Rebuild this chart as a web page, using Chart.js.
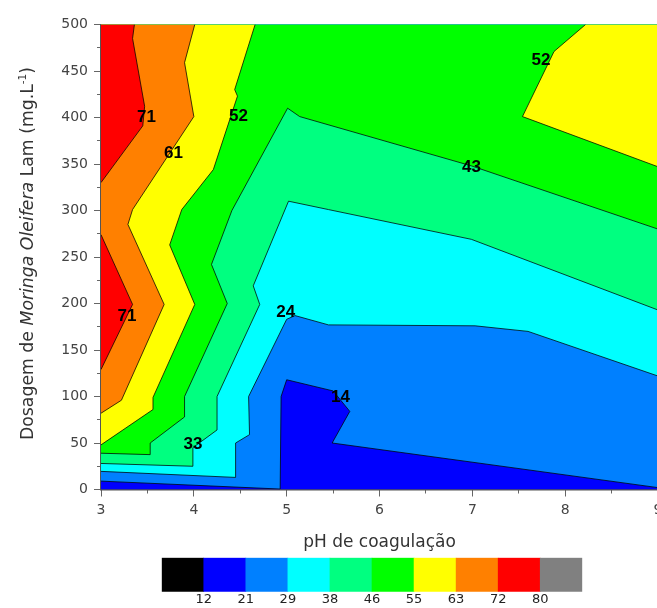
<!DOCTYPE html>
<html>
<head>
<meta charset="utf-8">
<title>Dosagem de Moringa oleifera x pH de coagulação</title>
<script src="https://cdn.jsdelivr.net/npm/chart.js@4.4.1/dist/chart.umd.min.js"></script>
<style>
  html,body{margin:0;padding:0;background:#fff;}
  #wrap{position:relative;width:657px;height:608px;overflow:hidden;}
  #contour{position:absolute;left:0;top:0;}
  #scale{position:absolute;left:0;top:550px;}
</style>
</head>
<body>
<div id="wrap">
  <canvas id="contour" width="670" height="560"></canvas>
  <canvas id="scale" width="657" height="58"></canvas>
</div>
<script>
/* contour lines as [pH, dose] vertices, each running edge to edge of the frame */
const c21  = [[3,9],[4.93,0.5],[4.94,100],[5.0,118],[5.5,106],[5.68,84],[5.49,50],[9,2]];
const c29  = [[3,19.5],[4.45,13],[4.45,50],[4.6,59],[4.59,100],[5.0,183],[5.09,187],[5.45,177],[7.03,176],[7.6,170],[9,122]];
const c38  = [[3,28],[3.99,25],[3.99,45],[4.25,64],[4.25,100],[4.71,199],[4.64,219],[5.02,310],[5.45,301],[6.99,269],[9,193]];
const c46  = [[3,39],[3.53,37.5],[3.53,50],[3.9,78],[3.9,100],[4.36,200],[4.19,242],[4.41,300],[5.01,410],[5.14,401],[6.99,348],[9,280]];
const c55a = [[3,48],[3.56,86],[3.56,99],[4.01,199],[3.74,263],[3.87,301],[4.21,344],[4.47,423],[4.44,430],[4.66,500]];
const c55b = [[8.22,500],[7.88,471],[7.54,401],[9,347]];
const c63  = [[3,82],[3.22,96],[3.68,199],[3.29,285],[3.34,301],[4.0,401],[3.9,459],[4.01,500]];
const c72a = [[3,330],[3.45,391],[3.47,412],[3.34,485],[3.36,500]];
const c72b = [[3,129],[3.34,199],[3,274]];

/* frame corners used to close each band */
const frame = [[3,0],[9,0],[9,500],[3,500]];
const topRight = [[9,500],[3,500]];
const topLeft = [[3,500]];
const cornerTR = [[9,500]];

/* band colours, from the 12-21 band upwards */
const bandColors = ['#0000ff','#0080ff','#00ffff','#00ff80','#00ff00','#ffff00','#ff8000','#ff0000'];

/* contour value labels */
const labelText = ['71','61','52','52','43','24','71','33','14'];
const labelPh   = [3.49, 3.78, 4.48, 7.74, 6.99, 4.99, 3.28, 3.99, 5.58];
const labelDose = [400, 361, 401, 462, 346, 190, 186, 49, 99];

/* colour scale */
const scaleLevels = [12,21,29,38,46,55,63,72,80];
const scaleColors = ['#000000','#0000ff','#0080ff','#00ffff','#00ff80','#00ff00','#ffff00','#ff8000','#ff0000','#808080'];

const xy = pts => pts.map(([x,y]) => ({x, y}));

// [line, corners, colour index]
const bands = [
  [frame, [], 0],
  [c21, topRight, 1],
  [c29, topRight, 2],
  [c38, topRight, 3],
  [c46, topRight, 4],
  [c55a, topLeft, 5],
  [c55b, cornerTR, 5],
  [c63, topLeft, 6],
  [c72a, topLeft, 7],
  [c72b, [], 7]
];

const fills = bands.map(([line, corners, ci], i) => ({
  data: xy(line.concat(corners)),
  backgroundColor: bandColors[ci],
  borderColor: 'transparent',
  borderWidth: 0,
  fill: 'shape',
  pointRadius: 0,
  order: bands.length + 1 - i,
  xAxisID: 'x', yAxisID: 'y'
}));

const lines = bands.slice(1).map(([line]) => ({
  data: xy(line),
  borderColor: 'rgba(0,0,0,0.75)',
  borderWidth: 1,
  fill: false,
  pointRadius: 0,
  order: 0,
  xAxisID: 'x', yAxisID: 'y'
}));

Chart.defaults.font.family = '"DejaVu Sans", sans-serif';

/* contour labels drawn at their data positions */
const contourLabels = {
  id: 'contourLabels',
  afterDatasetsDraw(chart){
    const {ctx, scales:{x, y}} = chart;
    ctx.save();
    ctx.font = 'bold 17px "Liberation Sans", Arial, sans-serif';
    ctx.fillStyle = '#000';
    ctx.textAlign = 'center';
    ctx.textBaseline = 'middle';
    labelText.forEach((t, i) => {
      ctx.fillText(t, x.getPixelForValue(labelPh[i]), y.getPixelForValue(labelDose[i]));
    });
    ctx.restore();
  }
};

/* rotated y title with italic species name and superscript */
const yTitle = {
  id: 'yTitle',
  afterDraw(chart){
    const ctx = chart.ctx;
    const size = 17.3;
    const parts = [
      {t:'Dosagem de ', f:''},
      {t:'Moringa Oleifera', f:'italic '},
      {t:' Lam (mg.L', f:''},
      {t:'-1', f:'', sup:true},
      {t:')', f:''}
    ];
    const fontOf = p => p.f + (p.sup ? 10.5 : size) + 'px "DejaVu Sans", sans-serif';
    let total = 0;
    parts.forEach(p => { ctx.font = fontOf(p); p.w = ctx.measureText(p.t).width; total += p.w; });
    ctx.save();
    ctx.translate(33, 253.5);
    ctx.rotate(-Math.PI/2);
    ctx.fillStyle = '#333';
    ctx.textBaseline = 'alphabetic';
    let pos = -total/2;
    parts.forEach(p => {
      ctx.font = fontOf(p);
      ctx.fillText(p.t, pos, p.sup ? -7 : 0);
      pos += p.w;
    });
    ctx.restore();
  }
};

new Chart(document.getElementById('contour'), {
  type: 'line',
  data: { datasets: fills.concat(lines) },
  options: {
    responsive: false,
    animation: false,
    events: [],
    layout: { padding: { top: 24.5, right: 12, bottom: 0, left: 0 } },
    elements: { line: { tension: 0 } },
    plugins: { legend: { display: false }, tooltip: { enabled: false } },
    scales: {
      x: {
        type: 'linear', position: 'bottom', min: 3, max: 9,
        ticks: { stepSize: 1, color: '#444', font: { size: 14 }, padding: 5, maxRotation: 0, autoSkip: false },
        grid: { drawOnChartArea: false, tickLength: 7, tickColor: '#666' },
        border: { color: '#555', width: 1.5 },
        title: { display: true, text: 'pH de coagulação', color: '#333', font: { size: 17 }, padding: { top: 0, bottom: 7 } },
        afterFit: s => { s.height = 70.5; }
      },
      xMinor: {
        axis: 'x', type: 'linear', position: 'bottom', min: 3, max: 9, weight: -1,
        ticks: { display: false, stepSize: 0.5 },
        grid: { drawOnChartArea: false, tickLength: 4, tickColor: '#666' },
        border: { display: false },
        afterFit: s => { s.height = 0; }
      },
      xTop: {
        axis: 'x', type: 'linear', position: 'top', min: 3, max: 9,
        ticks: { display: false },
        grid: { display: false },
        border: { color: '#999', width: 1 },
        afterFit: s => { s.height = 0; }
      },
      y: {
        type: 'linear', position: 'left', min: 0, max: 500,
        ticks: { stepSize: 50, color: '#444', font: { size: 14 }, padding: 6 },
        grid: { drawOnChartArea: false, tickLength: 7, tickColor: '#666' },
        border: { color: '#555', width: 1.5 },
        afterFit: s => { s.width = 101; }
      },
      yMinor: {
        axis: 'y', type: 'linear', position: 'left', min: 0, max: 500, weight: -1,
        ticks: { display: false, stepSize: 25 },
        grid: { drawOnChartArea: false, tickLength: 4, tickColor: '#666' },
        border: { display: false },
        afterFit: s => { s.width = 0; }
      }
    }
  },
  plugins: [contourLabels, yTitle]
});

/* colour scale bar under the plot */
new Chart(document.getElementById('scale'), {
  type: 'bar',
  data: {
    datasets: [{
      data: scaleColors.map((c, i) => ({ x: i + 0.5, y: 1 })),
      backgroundColor: scaleColors,
      borderWidth: 0,
      barPercentage: 1,
      categoryPercentage: 1
    }]
  },
  options: {
    responsive: false,
    animation: false,
    events: [],
    layout: { padding: { left: 161.7, right: 74.7, top: 7.7, bottom: 0 } },
    plugins: { legend: { display: false }, tooltip: { enabled: false } },
    scales: {
      x: {
        type: 'linear', min: 0, max: 10, offset: false,
        ticks: {
          stepSize: 1, autoSkip: false, maxRotation: 0, padding: 0,
          color: '#222', font: { size: 13 },
          callback: v => (v >= 1 && v <= 9) ? String(scaleLevels[v - 1]) : ''
        },
        grid: { display: false, drawTicks: false, offset: false },
        border: { display: false },
        afterFit: s => { s.height = 16.3; }
      },
      y: { min: 0, max: 1, display: false }
    }
  }
});
</script>
</body>
</html>
